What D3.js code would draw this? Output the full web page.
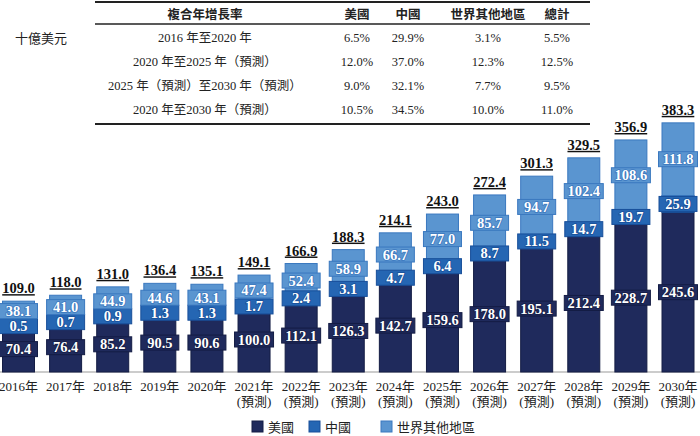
<!DOCTYPE html>
<html lang="zh-Hant">
<head>
  <meta charset="UTF-8">
  <title>市場規模</title>
  <style>
    body { margin: 0; background: #fff; }
    svg { display: block; }
    .serif { font-family: "Liberation Serif", "Noto Sans CJK TC", serif; }
    .cjk { font-family: "Noto Sans CJK TC", sans-serif; }
  </style>
</head>
<body>
  <div id="chart"></div>
  <script src="https://d3js.org/d3.v7.min.js"></script>
  <script>
    // Years (forecast from 2021)
    const years = ["2016年", "2017年", "2018年", "2019年", "2020年", "2021年", "2022年", "2023年",
                   "2024年", "2025年", "2026年", "2027年", "2028年", "2029年", "2030年"];
    const forecastFrom = 5;
    const forecastLabel = "(預測)";

    // Series values, billions USD
    const us    = [70.4, 76.4, 85.2, 90.5, 90.6, 100.0, 112.1, 126.3, 142.7, 159.6, 178.0, 195.1, 212.4, 228.7, 245.6];
    const china = [0.5, 0.7, 0.9, 1.3, 1.3, 1.7, 2.4, 3.1, 4.7, 6.4, 8.7, 11.5, 14.7, 19.7, 25.9];
    const rest  = [38.1, 41.0, 44.9, 44.6, 43.1, 47.4, 52.4, 58.9, 66.7, 77.0, 85.7, 94.7, 102.4, 108.6, 111.8];
    const totals = [109.0, 118.0, 131.0, 136.4, 135.1, 149.1, 166.9, 188.3, 214.1, 243.0, 272.4, 301.3, 329.5, 356.9, 383.3];

    const seriesNames = ["美國", "中國", "世界其他地區"];

    // CAGR table
    const tableHeader = ["複合年增長率", "美國", "中國", "世界其他地區", "總計"];
    const tablePeriods = ["2016 年至2020 年", "2020 年至2025 年（預測）",
                          "2025 年（預測）至2030 年（預測）", "2020 年至2030 年（預測）"];
    const cagrUS    = ["6.5%", "12.0%", "9.0%", "10.5%"];
    const cagrChina = ["29.9%", "37.0%", "32.1%", "34.5%"];
    const cagrRest  = ["3.1%", "12.3%", "7.7%", "10.0%"];
    const cagrTotal = ["5.5%", "12.5%", "9.5%", "11.0%"];

    const W = 700, H = 436;
    const fills   = ["#1f2a5c", "#2566b3", "#5a95d0"];
    const borders = ["#141c44", "#184f9a", "#3a78bf"];

    const svg = d3.select("#chart").append("svg")
      .attr("width", W).attr("height", H);

    // ---- table ----
    const colX = [205, 357, 408, 488, 557];
    const rowY = [19, 42, 66, 90, 114];
    const tbl = svg.append("g");
    [2, 24, 124].forEach(y => {
      tbl.append("line").attr("x1", 95).attr("x2", 590).attr("y1", y).attr("y2", y)
        .attr("stroke", "#222").attr("stroke-width", y === 24 ? 1.6 : 1.8);
    });
    tbl.selectAll(".th").data(tableHeader).enter().append("text")
      .attr("class", "cjk")
      .attr("x", (d, i) => colX[i]).attr("y", rowY[0])
      .attr("text-anchor", "middle").attr("font-size", 12.5).attr("font-weight", 700)
      .attr("fill", "#222").text(d => d);
    const cols = [tablePeriods, cagrUS, cagrChina, cagrRest, cagrTotal];
    cols.forEach((col, ci) => {
      tbl.selectAll(".c" + ci).data(col).enter().append("text")
        .attr("class", "serif")
        .attr("x", colX[ci]).attr("y", (d, i) => rowY[i + 1])
        .attr("text-anchor", "middle").attr("font-size", 12.5)
        .attr("fill", "#222").text(d => d);
    });
    svg.append("text").attr("class", "cjk")
      .attr("x", 15).attr("y", 43).attr("font-size", 13).attr("fill", "#222")
      .text("十億美元");

    // ---- bars ----
    const x = d3.scalePoint().domain(years).range([18.5, 678]);
    const y = d3.scaleLinear().domain([0, 400]).range([372, 112]);
    const bw = 32;

    svg.append("line").attr("x1", 0).attr("x2", W).attr("y1", y(0)).attr("y2", y(0))
      .attr("stroke", "#999").attr("stroke-width", 1);

    const rows = years.map((yr, i) => ({ yr, vals: [us[i], china[i], rest[i]], total: totals[i] }));
    const barG = svg.append("g");

    rows.forEach(r => {
      const cx = x(r.yr);
      let base = 0;
      const segs = r.vals.map((v, k) => {
        const s = { k, v, y0: base, y1: base + v };
        base += v;
        return s;
      });
      const g = barG.append("g");
      g.selectAll("rect.seg").data(segs).enter().append("rect")
        .attr("x", cx - bw / 2).attr("width", bw)
        .attr("y", d => y(d.y1)).attr("height", d => y(d.y0) - y(d.y1))
        .attr("fill", d => fills[d.k]).attr("stroke", d => borders[d.k]).attr("stroke-width", 1);

      // label positions, avoid overlap
      const mid = d => (y(d.y0) + y(d.y1)) / 2;
      const ly = [mid(segs[0]), mid(segs[1]), 0];
      ly[2] = Math.min(mid(segs[2]), ly[1] - 15);
      segs.forEach((d, k) => {
        const txt = d.v.toFixed(1);
        const tw = txt.length * 7 + 4;
        const boxW = Math.max(bw + 6, tw);
        g.append("rect")
          .attr("x", cx - boxW / 2).attr("width", boxW)
          .attr("y", ly[k] - 7.5).attr("height", 15)
          .attr("fill", fills[k]).attr("stroke", borders[k]).attr("stroke-width", 1);
        g.append("text").attr("class", "serif")
          .attr("x", cx).attr("y", ly[k] + 5)
          .attr("text-anchor", "middle").attr("font-size", 14.5).attr("font-weight", 700)
          .attr("fill", "#fff").attr("stroke", borders[k]).attr("stroke-width", 1.6)
          .attr("paint-order", "stroke")
          .text(txt);
      });

      g.append("text").attr("class", "serif")
        .attr("x", cx).attr("y", y(r.total) - 8)
        .attr("text-anchor", "middle").attr("font-size", 14.5).attr("font-weight", 700)
        .attr("fill", "#111").attr("text-decoration", "underline")
        .text(r.total.toFixed(1));
    });

    // ---- x labels ----
    const xl = svg.append("g");
    years.forEach((yr, i) => {
      const t = xl.append("text").attr("class", "serif")
        .attr("x", x(yr)).attr("y", 391)
        .attr("text-anchor", "middle").attr("font-size", 13).attr("fill", "#222");
      t.append("tspan").attr("x", x(yr)).text(yr);
      if (i >= forecastFrom) {
        t.append("tspan").attr("x", x(yr)).attr("dy", 15).text(forecastLabel);
      }
    });

    // ---- legend ----
    const legX = [252, 309, 381];
    const leg = svg.append("g");
    seriesNames.forEach((n, k) => {
      leg.append("rect").attr("x", legX[k]).attr("y", 421).attr("width", 11).attr("height", 11)
        .attr("fill", fills[k]).attr("stroke", borders[k]);
      leg.append("text").attr("class", "cjk")
        .attr("x", legX[k] + 16).attr("y", 431.5).attr("font-size", 13).attr("fill", "#222")
        .text(n);
    });
  </script>
</body>
</html>
